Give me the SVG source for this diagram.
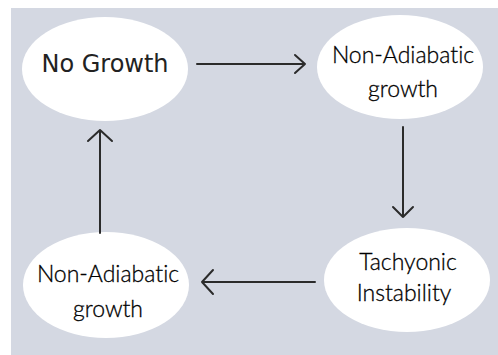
<svg xmlns="http://www.w3.org/2000/svg" width="498" height="355" viewBox="0 0 498 355">
<defs>
<style>
.node{fill:#ffffff}
.t1{font-family:"DejaVu Sans",sans-serif;font-size:24px;fill:#222222;text-anchor:middle}
.t2{font-family:Lato,"Open Sans",sans-serif;font-size:23px;font-weight:300;fill:#000000;stroke:#000000;stroke-width:0.3;text-anchor:middle;font-variant-ligatures:none;font-feature-settings:"liga" 0}
.edge{stroke:#2b2b2b;stroke-width:2;fill:none;stroke-linecap:round;stroke-linejoin:round}
</style>
</defs>
<rect x="0" y="0" width="498" height="355" fill="#ffffff"/>
<rect x="11" y="8" width="487" height="347" fill="#d4d8e2"/>
<g id="no-growth">
<ellipse class="node" cx="105" cy="69" rx="83" ry="52"/>
<text class="t1" x="105" y="72">No Growth</text>
</g>
<g id="non-adiabatic-top">
<ellipse class="node" cx="400" cy="67" rx="83" ry="52"/>
<text class="t2" x="403" y="63">Non-Adiabatic</text>
<text class="t2" x="403" y="97">growth</text>
</g>
<g id="tachyonic">
<ellipse class="node" cx="407" cy="280" rx="83" ry="52"/>
<text class="t2" x="408" y="270">Tachyonic</text>
<text class="t2" x="404" y="301">Instability</text>
</g>
<g id="non-adiabatic-bottom">
<ellipse class="node" cx="106" cy="285" rx="83" ry="53"/>
<text class="t2" x="108" y="282">Non-Adiabatic</text>
<text class="t2" x="108" y="317">growth</text>
</g>
<g id="connectors">
<path class="edge" d="M197 64 H305 M295 55 L305 64 L295 73"/>
<path class="edge" d="M403 127 V217 M393 207 L403 217 L413 207"/>
<path class="edge" d="M315 282 H202 M213 270 L202 282 L213 294"/>
<path class="edge" d="M100 233 V130 M88 141 L100 130 L112 141"/>
</g>
</svg>
